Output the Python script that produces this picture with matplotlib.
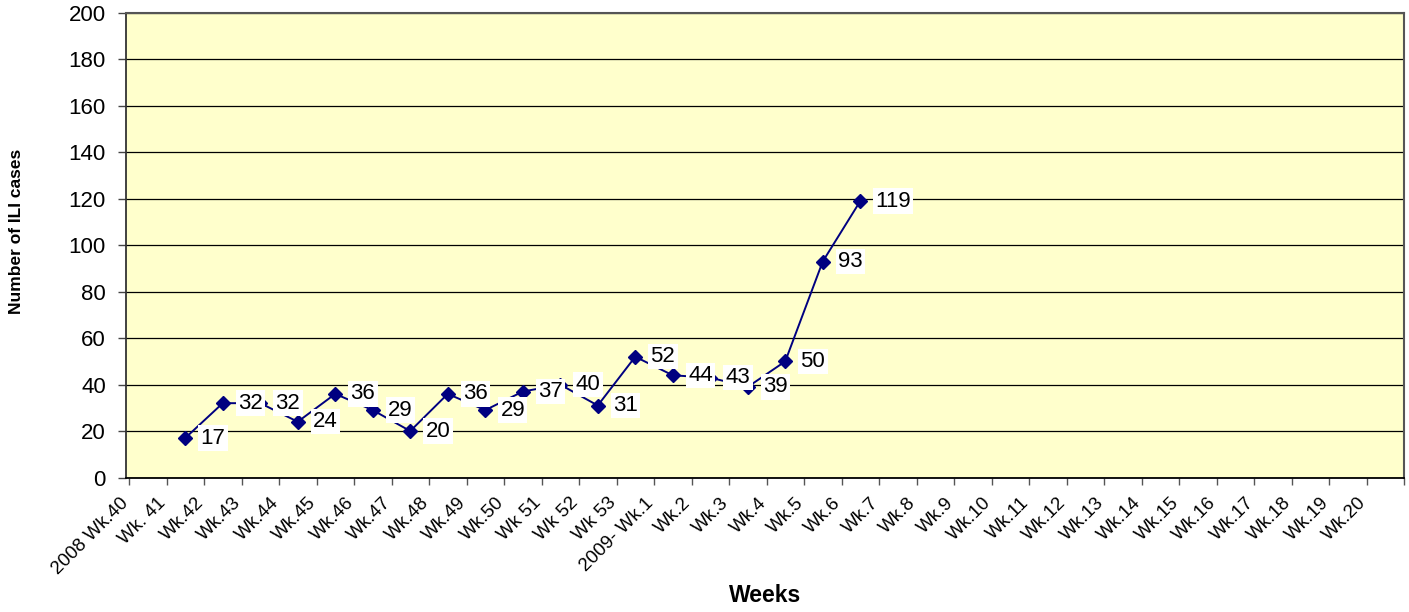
import matplotlib
matplotlib.use("Agg")
import matplotlib.pyplot as plt
import matplotlib.transforms as mtransforms

plt.rcParams['font.family'] = ['Liberation Sans', 'DejaVu Sans']

week_labels = ["2008 Wk.40", "Wk. 41", "Wk.42", "Wk.43", "Wk.44", "Wk.45", "Wk.46",
               "Wk.47", "Wk.48", "Wk.49", "Wk.50", "Wk 51", "Wk 52", "Wk 53",
               "2009- Wk.1", "Wk.2", "Wk.3", "Wk.4", "Wk.5", "Wk.6", "Wk.7", "Wk.8",
               "Wk.9", "Wk.10", "Wk.11", "Wk.12", "Wk.13", "Wk.14", "Wk.15", "Wk.16",
               "Wk.17", "Wk.18", "Wk.19", "Wk.20"]
ili_cases = [17, 32, 32, 24, 36, 29, 20, 36, 29, 37, 40, 31, 52, 44, 43, 39, 50, 93, 119]
first_index = 1
y_ticks = [0, 20, 40, 60, 80, 100, 120, 140, 160, 180, 200]

W, H = 1409, 612
fig = plt.figure(figsize=(W / 100, H / 100), dpi=100)
ax = fig.add_axes([126 / W, 1 - 477.5 / H, (1404 - 126) / W, (477.5 - 13) / H])
ax.set_facecolor('#FFFFCC')

n = len(week_labels)
ax.set_xlim(-0.5, n - 0.5)
ax.set_ylim(0, 200)
ax.set_yticks(y_ticks)
ax.yaxis.grid(True, color='black', linewidth=0.9)
ax.set_axisbelow(True)

xs = list(range(first_index, first_index + len(ili_cases)))
ax.plot(xs, ili_cases, color='#000080', linewidth=1.4, marker='D', markersize=7,
        markerfacecolor='#000080', markeredgecolor='#000080', zorder=3)

for x, v in zip(xs, ili_cases):
    ax.annotate(str(v), (x, v), xytext=(11, 0), textcoords='offset points',
                ha='left', va='center', fontsize=16, zorder=5,
                bbox=dict(boxstyle='square,pad=0.1', facecolor='white', edgecolor='none'))

# category boundary tick marks
ax.set_xticks([i - 0.5 for i in range(n + 1)], minor=True)
ax.tick_params(axis='x', which='minor', length=5, width=1, color='#555555', direction='out')
# labels
ax.set_xticks([i - 0.5 - 0.08 for i in range(n)])
ax.set_xticklabels(week_labels)
ax.tick_params(axis='x', which='major', length=0, pad=0)
offset = mtransforms.ScaledTranslation(0, -23 / 100, fig.dpi_scale_trans)
for lab in ax.get_xticklabels():
    lab.set_rotation(45)
    lab.set_ha('right')
    lab.set_va('center')
    lab.set_rotation_mode('anchor')
    lab.set_fontsize(13.5)
    lab.set_transform(lab.get_transform() + offset)

ax.tick_params(axis='y', which='major', length=6, width=1, color='#444444', pad=8.5, labelsize=16)

for side in ['top', 'right']:
    ax.spines[side].set_color('#555555')
    ax.spines[side].set_linewidth(1.5)
ax.spines['left'].set_color('#333333')
ax.spines['left'].set_linewidth(1.3)
ax.spines['bottom'].set_color('black')
ax.spines['bottom'].set_linewidth(1.3)

fig.text(765 / W, 1 - 596 / H, "Weeks", ha='center', va='center', fontsize=16.5, fontweight='bold')
fig.text(17 / W, 1 - 231 / H, "Number of ILI cases", ha='center', va='center', rotation=90,
         fontsize=12.5, fontweight='bold')

fig.savefig("out.png", dpi=100)
